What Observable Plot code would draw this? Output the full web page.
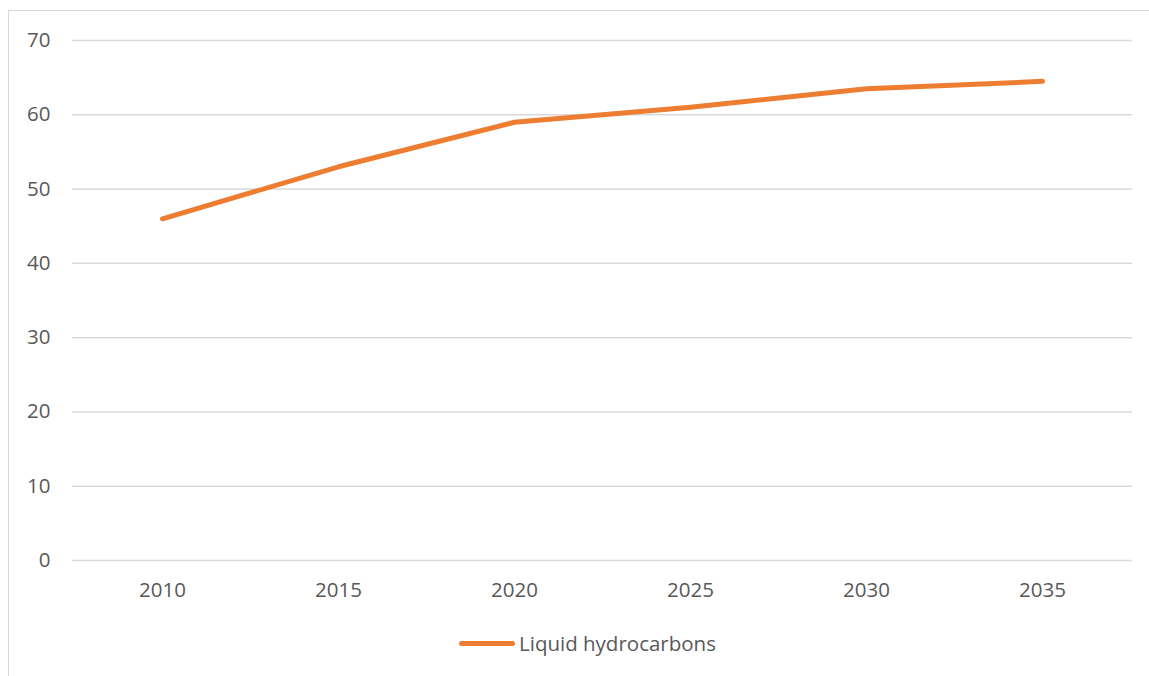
<!DOCTYPE html>
<html>
<head>
<meta charset="utf-8">
<script src="https://cdn.jsdelivr.net/npm/d3@7"></script>
<script src="https://cdn.jsdelivr.net/npm/@observablehq/plot@0.6"></script>
<style>
  html, body { margin: 0; padding: 0; background: #fff; overflow: hidden; }
  body { width: 1149px; height: 676px; position: relative; font-family: "Open Sans", "Liberation Sans", sans-serif; }
  #frame { position: absolute; left: 8px; top: 10px; width: 1200px; height: 720px; border: 1px solid #d9d9d9; box-sizing: border-box; }
  #chart { position: absolute; left: 0; top: 0; }
  #legend { position: absolute; left: 459px; top: 629px; display: flex; align-items: center; color: #595959; font-size: 20.5px; }
  #legend .swatch { width: 56px; height: 5px; border-radius: 3px; background: #ED7D31; margin-right: 4px; }
</style>
</head>
<body>
<div id="frame"></div>
<div id="chart"></div>
<div id="legend"><span class="swatch"></span><span>Liquid hydrocarbons</span></div>
<script>
// Projected output of liquid hydrocarbons by year
const years = ["2010", "2015", "2020", "2025", "2030", "2035"];
const liquidHydrocarbons = [46, 53, 59, 61, 63.5, 64.5];
const yTicks = [0, 10, 20, 30, 40, 50, 60, 70];

const data = years.map((year, i) => ({year, value: liquidHydrocarbons[i]}));

const chart = Plot.plot({
  width: 1149,
  height: 620,
  marginLeft: 72,
  marginRight: 17,
  marginTop: 40,
  marginBottom: 60,
  style: {fontFamily: "'Open Sans', 'Liberation Sans', sans-serif", fontSize: "20.5px", color: "#595959", background: "transparent"},
  x: {type: "band", domain: years, paddingInner: 0, paddingOuter: 0},
  y: {domain: [0, 70]},
  marks: [
    Plot.gridY(yTicks, {stroke: "#d9d9d9", strokeOpacity: 1, strokeWidth: 1.5}),
    Plot.axisY(yTicks, {tickSize: 0, tickPadding: 22, label: null, fill: "#595959"}),
    Plot.axisX({tickSize: 0, tickPadding: 22, label: null, fill: "#595959"}),
    Plot.line(data, {x: "year", y: "value", stroke: "#ED7D31", strokeWidth: 5, strokeLinecap: "round", strokeLinejoin: "round"})
  ]
});
document.getElementById("chart").appendChild(chart);
</script>
</body>
</html>
